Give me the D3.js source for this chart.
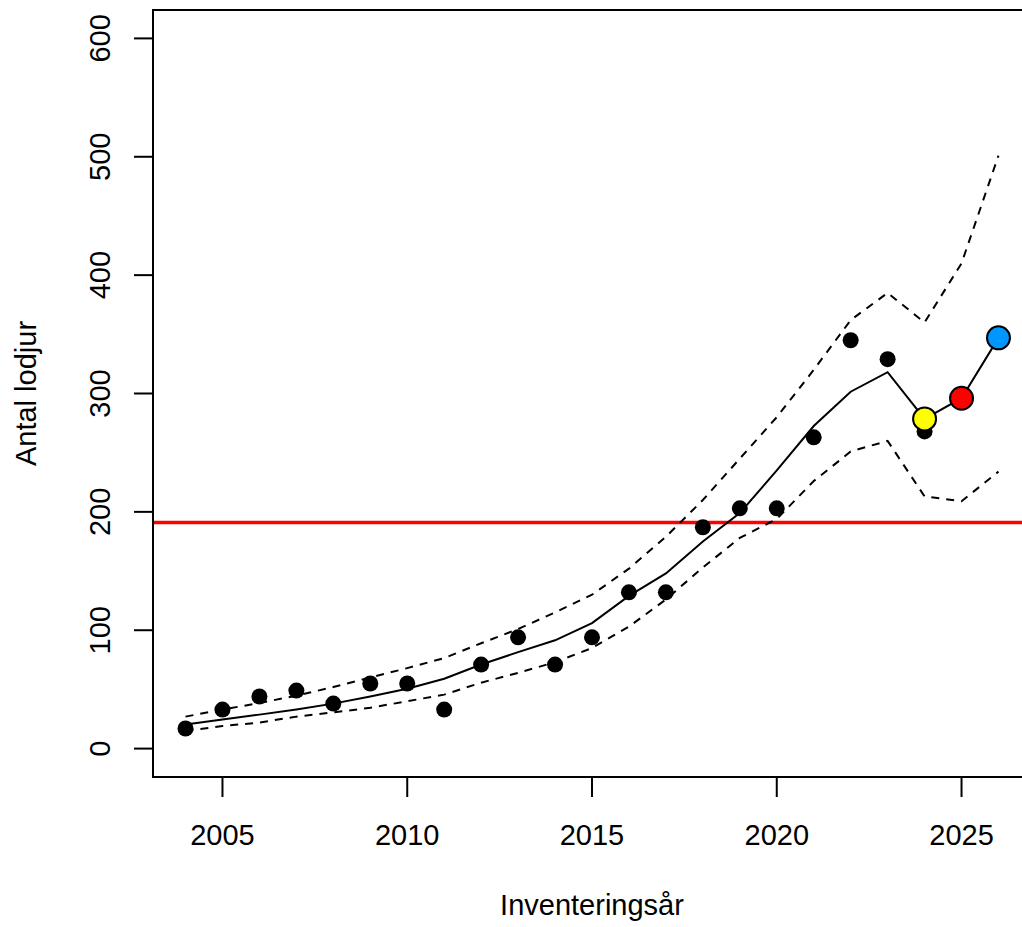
<!DOCTYPE html>
<html>
<head>
<meta charset="utf-8">
<script src="https://cdn.jsdelivr.net/npm/d3@7"></script>
<style>
  html, body { margin: 0; padding: 0; background: #fff; }
  svg { display: block; }
  text { font-family: "Liberation Sans", Arial, Helvetica, sans-serif; fill: #000; }
</style>
</head>
<body>
<div id="chart"></div>
<script>
// Inventoried lynx per year, with model fit and 95% band
const years = [2004, 2005, 2006, 2007, 2008, 2009, 2010, 2011, 2012, 2013, 2014,
               2015, 2016, 2017, 2018, 2019, 2020, 2021, 2022, 2023, 2024];
const observed = [17, 33, 44, 49, 38, 55, 55, 33, 71, 94, 71,
                  94, 132, 132, 187, 203, 203, 263, 345, 329, 268];

const fitYears = [2004, 2005, 2006, 2007, 2008, 2009, 2010, 2011, 2012, 2013, 2014,
                  2015, 2016, 2017, 2018, 2019, 2020, 2021, 2022, 2023, 2024, 2025, 2026];
const fitted = [20.3, 24.5, 28.7, 33, 38, 44, 50.6, 59, 71, 81.5, 91.5,
                106, 129, 148, 175, 199, 235, 272.5, 301.5, 318, 278.5, 296, 347];
const upper = [27, 33, 38.5, 44.7, 52, 60, 68, 76.5, 89, 101, 115,
               130, 152, 179, 210, 245, 280, 320, 362, 385, 360, 410, 501];
const lower = [15, 19, 22, 27, 30.6, 34.5, 40, 45.6, 55.7, 64, 73,
               85, 103, 126, 153, 178, 194, 226, 251, 260, 213, 209, 234];

// Forecast points, highlighted
const forecastYears = [2024, 2025, 2026];
const forecastValues = [278.5, 296, 347];
const forecastColors = ["#ffff00", "#ff0000", "#0096ff"];

const referenceLevel = 191;

const xTicks = [2005, 2010, 2015, 2020, 2025];
const yTicks = [0, 100, 200, 300, 400, 500, 600];

const W = 1022, H = 927;
const plot = { left: 153, right: 1031, top: 10, bottom: 777 };

const svg = d3.select("#chart").append("svg")
  .attr("width", W).attr("height", H);

// Axis limits padded 4% as in a base-graphics plot
const xPad = (2026 - 2004) * 0.04;
const yPad = 600 * 0.04;
const x = d3.scaleLinear().domain([2004 - xPad, 2026 + xPad]).range([plot.left, plot.right]);
const y = d3.scaleLinear().domain([0 - yPad, 600 + yPad]).range([plot.bottom, plot.top]);

const line = d3.line().x(d => x(d[0])).y(d => y(d[1]));

// Reference level
svg.append("line")
  .attr("x1", x(2004 - xPad)).attr("x2", x(2026 + xPad))
  .attr("y1", y(referenceLevel)).attr("y2", y(referenceLevel))
  .attr("stroke", "#ff0000").attr("stroke-width", 3.5);

// Confidence band
[upper, lower].forEach(band => {
  svg.append("path")
    .attr("d", line(fitYears.map((yr, i) => [yr, band[i]])))
    .attr("fill", "none").attr("stroke", "#000")
    .attr("stroke-width", 2).attr("stroke-dasharray", "8,7");
});

// Observed counts
svg.append("g").selectAll("circle").data(years).join("circle")
  .attr("cx", d => x(d)).attr("cy", (d, i) => y(observed[i]))
  .attr("r", 8).attr("fill", "#000");

// Fitted trajectory
svg.append("path")
  .attr("d", line(fitYears.map((yr, i) => [yr, fitted[i]])))
  .attr("fill", "none").attr("stroke", "#000").attr("stroke-width", 2);

// Forecast markers
svg.append("g").selectAll("circle").data(forecastYears).join("circle")
  .attr("cx", d => x(d)).attr("cy", (d, i) => y(forecastValues[i]))
  .attr("r", 11.5).attr("fill", (d, i) => forecastColors[i])
  .attr("stroke", "#000").attr("stroke-width", 2);

// Plot frame
svg.append("rect")
  .attr("x", plot.left).attr("y", plot.top)
  .attr("width", plot.right - plot.left).attr("height", plot.bottom - plot.top)
  .attr("fill", "none").attr("stroke", "#000").attr("stroke-width", 2);

// X axis
const xAxis = svg.append("g");
xAxis.append("line")
  .attr("x1", x(xTicks[0])).attr("x2", x(xTicks[xTicks.length - 1]))
  .attr("y1", plot.bottom).attr("y2", plot.bottom)
  .attr("stroke", "#000").attr("stroke-width", 2);
xAxis.selectAll("line.tick").data(xTicks).join("line").attr("class", "tick")
  .attr("x1", d => x(d)).attr("x2", d => x(d))
  .attr("y1", plot.bottom).attr("y2", plot.bottom + 20)
  .attr("stroke", "#000").attr("stroke-width", 2);
xAxis.selectAll("text").data(xTicks).join("text")
  .attr("x", d => x(d)).attr("y", 845)
  .attr("text-anchor", "middle").attr("font-size", 29)
  .text(d => d);

// Y axis
const yAxis = svg.append("g");
yAxis.append("line")
  .attr("x1", plot.left).attr("x2", plot.left)
  .attr("y1", y(yTicks[0])).attr("y2", y(yTicks[yTicks.length - 1]))
  .attr("stroke", "#000").attr("stroke-width", 2);
yAxis.selectAll("line.tick").data(yTicks).join("line").attr("class", "tick")
  .attr("x1", plot.left - 19).attr("x2", plot.left)
  .attr("y1", d => y(d)).attr("y2", d => y(d))
  .attr("stroke", "#000").attr("stroke-width", 2);
yAxis.selectAll("text").data(yTicks).join("text")
  .attr("transform", d => `translate(110,${y(d)}) rotate(-90)`)
  .attr("text-anchor", "middle").attr("font-size", 29)
  .text(d => d);

// Axis titles
svg.append("text")
  .attr("x", (plot.left + plot.right) / 2).attr("y", 915)
  .attr("text-anchor", "middle").attr("font-size", 29)
  .text("Inventeringsår");
svg.append("text")
  .attr("transform", `translate(36,${(plot.top + plot.bottom) / 2}) rotate(-90)`)
  .attr("text-anchor", "middle").attr("font-size", 29)
  .text("Antal lodjur");
</script>
</body>
</html>
